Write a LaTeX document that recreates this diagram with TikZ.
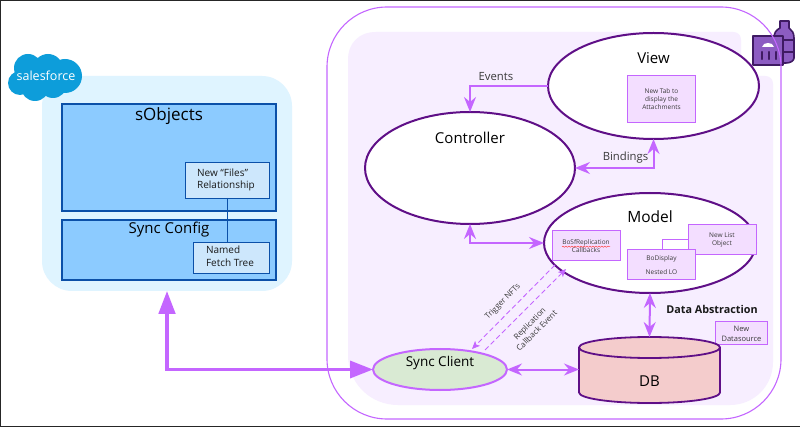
\documentclass[tikz,border=0pt]{standalone}
\usepackage{fontspec}
\setmainfont{Open Sans}
\usetikzlibrary{arrows.meta,shapes.geometric,decorations.pathmorphing}
\definecolor{vio}{HTML}{C466FF}
\definecolor{dvio}{HTML}{5F0F87}
\definecolor{panelv}{HTML}{F7EEFF}
\definecolor{boxv}{HTML}{F3DEFF}
\definecolor{panelb}{HTML}{DFF4FF}
\definecolor{blue1}{HTML}{8CCBFF}
\definecolor{blue2}{HTML}{0B50A8}
\definecolor{boxb}{HTML}{CDE7FC}
\definecolor{sf}{HTML}{0D9DDA}
\definecolor{lbl}{HTML}{3A3A3A}
\definecolor{clientg}{HTML}{D9EAD3}
\definecolor{dbr}{HTML}{F4CCCC}
\definecolor{icond}{HTML}{3F1A63}
\definecolor{iconm}{HTML}{8C5CC2}
\tikzset{
  every node/.style={inner sep=0pt,outer sep=0pt,align=center},
  mvc/.style={ellipse,draw=dvio,line width=2pt,fill=white},
  bigbox/.style={rectangle,draw=blue2,line width=1.6pt,fill=blue1},
  smallblue/.style={rectangle,draw=blue2,line width=0.9pt,fill=boxb,font=\fontsize{10}{12.5}\selectfont,text=black!90},
  vbox/.style={rectangle,draw=vio,line width=1pt,fill=boxv,font=\fontsize{6.5}{7.6}\selectfont,text=lbl},
  title/.style={font=\fontsize{15}{18}\selectfont,text=black},
  lab/.style={font=\fontsize{11.3}{13}\selectfont,text=lbl},
  tiny/.style={font=\fontsize{8}{10}\selectfont,text=lbl},
  dbl/.style={draw=vio,line width=2pt,{Stealth[length=15pt,width=12pt,inset=5pt]}-{Stealth[length=15pt,width=12pt,inset=5pt]}},
  sgl/.style={draw=vio,line width=2pt,-{Stealth[length=15pt,width=12pt,inset=5pt]}},
  big/.style={draw=vio,line width=3.4pt,{Triangle[length=23pt,width=16.5pt]}-{Triangle[length=23pt,width=17pt]}},
  dash1/.style={draw=vio,line width=0.9pt,dash pattern=on 5pt off 3pt,-{Stealth[length=8pt,width=7pt,inset=2pt]}},
}
\begin{document}
\begin{tikzpicture}[x=1pt,y=-1pt]
\useasboundingbox (0,0) rectangle (800,427);
\fill[white] (0,0) rectangle (800,427);
% left panel
\node[rectangle,rounded corners=30pt,fill=panelb,minimum width=250pt,minimum height=215pt] (panel) at (167,183.5) {};
% cloud
\fill[sf] (28,68) circle (14) (48,69) circle (15) (65,76) circle (17) (20,83) circle (12) (35,87) circle (14) (53,84) circle (14);
\node[font=\fontsize{12.5}{13}\selectfont,text=white] (sflogo) at (46,76) {salesforce};
\node[bigbox,minimum width=214pt,minimum height=107pt] (sobj) at (169,157.5) {};
\node[title,font=\fontsize{17}{20}\selectfont] (sobjt) at (169,116) {sObjects};
\node[bigbox,minimum width=214pt,minimum height=60pt] (sync) at (169,250) {};
\node[title] (synct) at (169,229.5) {Sync Config};
\node[smallblue,minimum width=84pt,minimum height=36pt] (files) at (227,180) {\begin{tabular}{@{}l@{}}\hspace*{-2pt}New “Files”\\\hspace*{-2pt}Relationship\end{tabular}};
\node[smallblue,minimum width=76pt,minimum height=31pt] (tree) at (231.5,257.5) {\begin{tabular}{@{}l@{}}\hspace*{-3pt}Named\\\hspace*{-3pt}Fetch Tree\end{tabular}};
\draw[blue2,line width=0.9pt] (files.south) -- (files.south |- tree.north);
% inner panel
\fill[panelv] (348,60) .. controls (348,43) and (359,32) .. (376,32) -- (733,32) .. controls (738,32) and (741,35) .. (741,40) -- (741,76) -- (765,76) .. controls (770,76) and (773,79) .. (773,84) -- (773,362) .. controls (773,386) and (754,405) .. (730,405) -- (398,405) .. controls (370,405) and (348,383) .. (348,355) -- cycle;
% icon: bottle
\filldraw[fill=iconm,draw=icond,line width=1.6pt,line join=round] (780,21) -- (789,21) -- (789,28) .. controls (792,30) and (794,33) .. (794,38) -- (794,58) .. controls (794,61) and (790,63) .. (786,63) -- (774,63) -- (774,38) .. controls (774,33) and (776,30) .. (780,28) -- cycle;
\draw[icond,line width=1.6pt] (783,40) -- (794,40) (783,52) -- (794,52);
% icon: building
\filldraw[fill=iconm,draw=icond,line width=1.8pt,line join=round] (753,36) -- (783,36) -- (783,65) -- (753,65) -- cycle;
\fill[white] (762,47) .. controls (763,44) and (765,43) .. (768,43) .. controls (771,43) and (773,44) .. (774,47) -- cycle;
\draw[icond,line width=2.4pt,line cap=round] (762,52) -- (762,59) (769,52) -- (769,59) (776,52) -- (776,59);
% outer panel
\node[rectangle,rounded corners=60pt,draw=vio,line width=1.1pt,minimum width=454pt,minimum height=412pt] (outer) at (554,213) {};
% ellipses
\node[mvc,minimum width=211pt,minimum height=106pt] (view) at (653.5,86) {};
\node[title] (viewt) at (653.5,58) {View};
\node[vbox,minimum width=68pt,minimum height=47pt] (tab) at (661.5,99) {New Tab to\\display the\\Attachments};
\node[mvc,minimum width=210pt,minimum height=112pt] (ctrl) at (470,168) {};
\node[title] (ctrlt) at (470,137.5) {Controller};
\node[mvc,minimum width=212pt,minimum height=100pt] (model) at (650,243) {};
\node[title,font=\fontsize{15.5}{18}\selectfont] (modelt) at (650,217) {Model};
\node[vbox,minimum width=68pt,minimum height=30pt] (bosf) at (586,246) {BoSfReplication\\Callbacks};
\draw[red!70!white,line width=0.5pt,decorate,decoration={snake,amplitude=0.6pt,segment length=3pt}] (562,246.7) -- (610,246.7);
\node[vbox,minimum width=68pt,minimum height=30pt] (newlist) at (722,240) {New List\\Object};
\draw[vio,line width=1pt] (662,250) |- (newlist.west);
\node[vbox,minimum width=68pt,minimum height=30pt] (bodisp) at (661.5,265) {BoDisplay\\[7pt]Nested LO};
\node[rectangle,draw=vio,line width=1pt,fill=boxv,minimum width=52pt,minimum height=23pt,font=\fontsize{7.5}{10}\selectfont,text=lbl] (newds) at (741.5,333.5) {New\\Datasource};
\node[ellipse,draw=vio,line width=2pt,fill=clientg,minimum width=134pt,minimum height=41pt] (client) at (440,369.5) {};
\node[font=\fontsize{13.5}{16}\selectfont,text=black] (clientt) at (440,363) {Sync Client};
% cylinder
\node[rectangle,minimum width=141pt,minimum height=66pt] (db) at (649.5,370) {};
\filldraw[fill=dbr,draw=dvio,line width=1.8pt] (579,347.5) -- (579,392.5) .. controls (579,398.3) and (610,403) .. (649.5,403) .. controls (689,403) and (720,398.3) .. (720,392.5) -- (720,347.5) .. controls (720,341.7) and (689,337) .. (649.5,337) .. controls (610,337) and (579,341.7) .. (579,347.5) -- cycle;
\draw[dvio,line width=1.8pt] (579,347.5) .. controls (579,353.3) and (610,358) .. (649.5,358) .. controls (689,358) and (720,353.3) .. (720,347.5);
\node[title] (dbt) at (649.5,381) {DB};
\draw[sgl] (view.west) -| (ctrl.north);
\draw[dbl] (ctrl.east) -| (view.south);
\draw[dbl] (ctrl.south) |- (model.west);
\draw[dbl] (model.south) -- (db.north);
\draw[dbl] (client.east) -- (client.east -| db.west);
\draw[big] (panel.south) |- (client.west);
\coordinate (tnA) at (555,265); \coordinate (tnB) at (472,349);
\coordinate (rcA) at (485,350); \coordinate (rcB) at (566,269);
\draw[dash1] (tnA) -- (tnB);
\draw[dash1] (rcA) -- (rcB);
\node[lab] (evl) at (496,77) {Events};
\node[lab] (bnl) at (625.5,158) {Bindings};
\node[font=\fontsize{10.8}{13}\selectfont\bfseries,text=black!90] (dal) at (712,309.5) {Data Abstraction};
\node[tiny,rotate=45] (tnl) at (503,302) {Trigger NFTs};
\node[tiny,rotate=45] (rcl) at (533,327) {Replication\\Callback Event};
% frame
\draw[black!85,line width=1.5pt] (800,0.5) -- (0.5,0.5) -- (0.5,426.3) -- (800,426.3);
\end{tikzpicture}
\end{document}
